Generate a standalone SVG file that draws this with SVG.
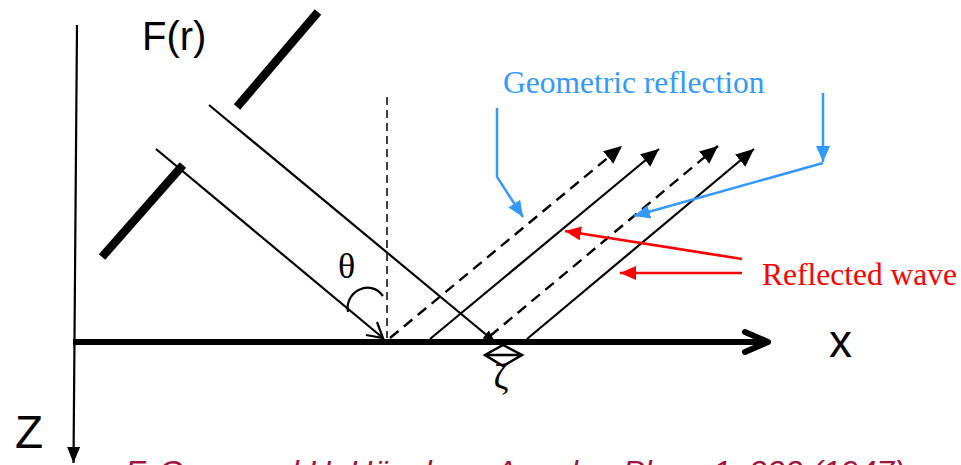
<svg xmlns="http://www.w3.org/2000/svg" width="961" height="465" viewBox="0 0 961 465">
<defs>
<style>
.thin{stroke:#000;stroke-width:2.2;fill:none}
.dash{stroke:#000;stroke-width:2.4;fill:none;stroke-dasharray:11 7}
.vdash{stroke:#000;stroke-width:1.5;fill:none;stroke-dasharray:8 5}
.bar{stroke:#000;stroke-width:8.5;fill:none}
.blue{stroke:#3399FF;stroke-width:2.5;fill:none}
.red{stroke:#FF0000;stroke-width:2.7;fill:none}
.sans{font-family:"Liberation Sans",Arial,sans-serif}
.serif{font-family:"Liberation Serif","Times New Roman",serif}
</style>
<marker id="ah" markerUnits="userSpaceOnUse" markerWidth="20" markerHeight="18" refX="18" refY="8" orient="auto">
<path d="M0,0 L18,8 L0,16 Z" fill="#000"/>
</marker>
<marker id="ahs" markerUnits="userSpaceOnUse" markerWidth="14" markerHeight="12" refX="12" refY="5" orient="auto">
<path d="M0,0 L12,5 L0,10 Z" fill="#000"/>
</marker>
<marker id="ahz" markerUnits="userSpaceOnUse" markerWidth="18" markerHeight="14" refX="16" refY="6.5" orient="auto">
<path d="M0,0 L16,6.5 L0,13 Z" fill="#000"/>
</marker>
<marker id="ahb" markerUnits="userSpaceOnUse" markerWidth="18" markerHeight="16" refX="16" refY="7" orient="auto">
<path d="M0,0 L16,7 L0,14 Z" fill="#3399FF"/>
</marker>
<marker id="ahr" markerUnits="userSpaceOnUse" markerWidth="18" markerHeight="16" refX="16" refY="7" orient="auto">
<path d="M0,0 L16,7 L0,14 Z" fill="#FF0000"/>
</marker>
</defs>
<rect width="961" height="465" fill="#fff"/>

<g id="axes">
<line x1="77" y1="25" x2="73.5" y2="463" class="thin" marker-end="url(#ahz)"/>
<line x1="73" y1="342" x2="765" y2="342" stroke="#000" stroke-width="6"/>
<path d="M745,332 L768,342 L745,352" fill="none" stroke="#000" stroke-width="6" stroke-linecap="round" stroke-linejoin="round"/>
<text x="15" y="448" class="sans" font-size="46">Z</text>
<text x="829" y="357" class="sans" font-size="46">x</text>
</g>

<g id="aperture">
<line x1="237" y1="107" x2="318" y2="12" class="bar"/>
<line x1="102" y1="257" x2="183" y2="165" class="bar"/>
<text x="142" y="50" class="sans" font-size="40">F(r)</text>
</g>

<g id="normal">
<line x1="387" y1="97" x2="387" y2="338" class="vdash"/>
<path d="M348,312 C344,292 370,278 383,296" class="thin"/>
<text x="338" y="278" class="serif" font-size="36">θ</text>
</g>

<g id="shift">
<path d="M485,355 L503,345 L522,355 L503,366 Z M485,355 L522,355" fill="none" stroke="#000" stroke-width="2.5" stroke-linejoin="miter"/>
<text x="501" y="389" class="serif" font-size="36" text-anchor="middle">ζ</text>
</g>

<g id="geometric-label">
<text x="503" y="93" class="serif" font-size="31.5" fill="#3399FF">Geometric reflection</text>
</g>

<g id="reflected-label">
<text x="762" y="285" class="serif" font-size="31.5" fill="#FF0000">Reflected wave</text>
</g>

<g id="citation">
<text x="125" y="483" class="sans" font-size="32" font-style="italic" fill="#A0143F" textLength="780" lengthAdjust="spacingAndGlyphs">F. Goos and H. Hänchen, Annalen Phys. 1, 333 (1947)</text>
</g>

<g id="connectors">
<line x1="209" y1="105" x2="495" y2="342" class="thin" marker-end="url(#ahs)"/>
<line x1="156" y1="149" x2="383" y2="338" class="thin"/>
<path d="M366,335 L383,338 L377,322" class="thin"/>
<line x1="390" y1="338" x2="622" y2="146" class="dash" marker-end="url(#ah)"/>
<line x1="430" y1="339" x2="659" y2="149" class="thin" marker-end="url(#ah)"/>
<line x1="490" y1="336" x2="718" y2="146" class="dash" marker-end="url(#ah)"/>
<line x1="527" y1="339" x2="754" y2="149" class="thin" marker-end="url(#ah)"/>
<path d="M497,108 L497,177 L523,217" class="blue" marker-end="url(#ahb)"/>
<line x1="823" y1="93" x2="823" y2="162" class="blue" marker-end="url(#ahb)"/>
<line x1="823" y1="163" x2="634" y2="216" class="blue" marker-end="url(#ahb)"/>
<line x1="742" y1="259" x2="565" y2="231" class="red" marker-end="url(#ahr)"/>
<line x1="742" y1="273" x2="620" y2="273" class="red" marker-end="url(#ahr)"/>
</g>
</svg>
